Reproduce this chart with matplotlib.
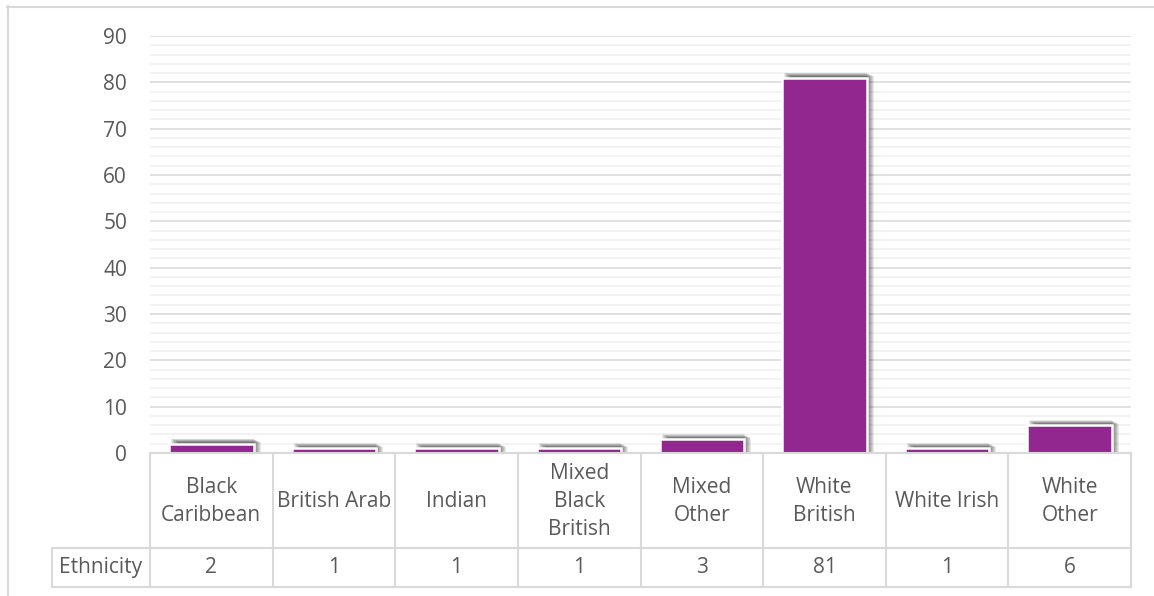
import matplotlib
matplotlib.use("Agg")
import matplotlib.pyplot as plt
from matplotlib.patches import Rectangle
from matplotlib.lines import Line2D

categories = ["Black\nCaribbean", "British Arab", "Indian", "Mixed\nBlack\nBritish",
              "Mixed\nOther", "White\nBritish", "White Irish", "White\nOther"]
values = [2, 1, 1, 1, 3, 81, 1, 6]
series_name = "Ethnicity"
yticks = [0, 10, 20, 30, 40, 50, 60, 70, 80, 90]

W, H = 1154, 596
plt.rcParams['font.family'] = ['Open Sans', 'DejaVu Sans']
fig = plt.figure(figsize=(W / 100, H / 100), dpi=100)
TXT = "#595959"
FS = 15

# plot area in pixels
x0, x1 = 150, 1131
y_top, y_zero = 36, 453
ax = fig.add_axes([x0 / W, 1 - y_zero / H, (x1 - x0) / W, (y_zero - y_top) / H])
n = len(categories)
ax.set_xlim(0, n)
ax.set_ylim(0, 90)
for s in ax.spines.values():
    s.set_visible(False)
ax.set_xticks([])
ax.set_yticks(yticks)
ax.set_yticklabels([str(v) for v in yticks], fontsize=FS, color=TXT)
ax.tick_params(axis='y', length=0, pad=16.5)
for v in range(0, 91, 2):
    if v % 10 == 0:
        if v > 0:
            ax.axhline(v, color="#D9D9D9", lw=1.1, zorder=0)
    else:
        ax.axhline(v, color="#F0F0F0", lw=1.1, zorder=0)

bw = 0.69
purple = "#92278F"
px = 1 / 122.6  # one pixel in x data units
py = 1 / 4.633  # one pixel in y data units
for i, v in enumerate(values):
    left = i + (1 - bw) / 2
    # soft shadow (offset to the right, blurred)
    for k in range(8):
        ax.add_patch(Rectangle((left + 2 * px + k * px, 0), bw - 2 * px, v + (5 - 0.5 * k) * py,
                               facecolor="black", alpha=0.09, lw=0, zorder=1, clip_on=False))
    ax.add_patch(Rectangle((left, 0), bw, v, facecolor=purple, edgecolor="white",
                           lw=1.8, zorder=2))

# table
tb = fig.add_axes([0, 0, 1, 1])
tb.set_xlim(0, W)
tb.set_ylim(H, 0)
tb.axis("off")
tb.patch.set_alpha(0)
gc = "#D9D9D9"
r0, r1, r2 = 453, 548, 587
lab_x = 52
cw = (x1 - x0) / n

def hl(y, xa, xb):
    tb.add_line(Line2D([xa, xb], [y, y], color=gc, lw=1.5, zorder=5))

def vl(x, ya, yb):
    tb.add_line(Line2D([x, x], [ya, yb], color=gc, lw=1.5, zorder=5))

tb.add_patch(Rectangle((x0, r0), x1 - x0, r2 - r0, facecolor="white", lw=0, zorder=4))
hl(r0, x0, x1)
hl(r1, lab_x, x1)
hl(r2, lab_x, x1)
vl(lab_x, r1, r2)
for i in range(n + 1):
    vl(x0 + i * cw, r0, r2)

for i, (c, v) in enumerate(zip(categories, values)):
    cx = x0 + (i + 0.5) * cw
    tb.text(cx, (r0 + r1) / 2 + 1, c, ha="center", va="center", fontsize=FS,
            color=TXT, linespacing=1.45, zorder=6)
    tb.text(cx, (r1 + r2) / 2, str(v), ha="center", va="center", fontsize=FS, color=TXT,
            zorder=6)
tb.text((lab_x + x0) / 2, (r1 + r2) / 2, series_name, ha="center", va="center",
        fontsize=FS, color=TXT, zorder=6)

# outer chart border (top and left)
tb.add_line(Line2D([7, W], [6.5, 6.5], color="#D9D9D9", lw=1.5))
tb.add_line(Line2D([7.5, 7.5], [6, H], color="#D9D9D9", lw=1.5))

fig.savefig("out.png", dpi=100)
